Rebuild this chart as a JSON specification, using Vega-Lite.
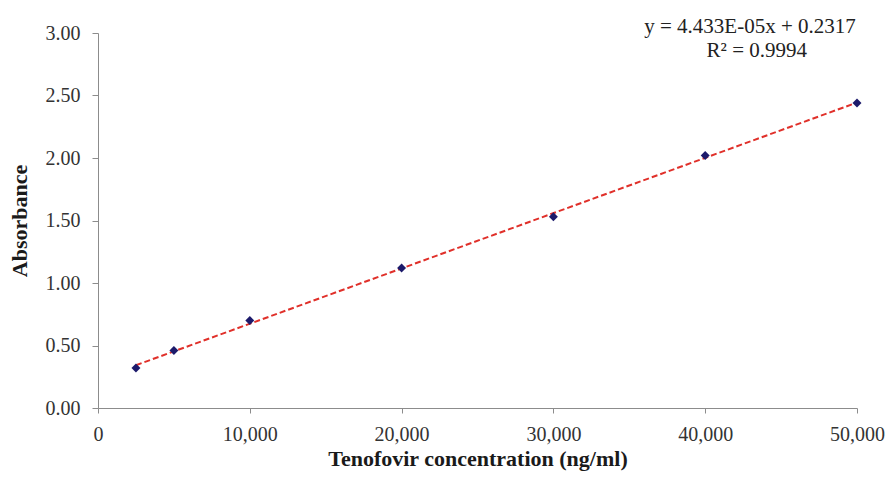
{
  "$schema": "https://vega.github.io/schema/vega-lite/v6.json",
  "width": 759,
  "height": 375,
  "autosize": {"type": "none"},
  "padding": {"left": 98, "top": 33, "right": 33, "bottom": 71},
  "background": "white",
  "config": {
    "view": {"stroke": null},
    "font": "Liberation Serif",
    "axis": {
      "grid": false,
      "domainColor": "#8c8c8c",
      "tickColor": "#8c8c8c",
      "labelFont": "Liberation Serif",
      "titleFont": "Liberation Serif",
      "labelFontSize": 20,
      "titleFontSize": 22,
      "labelColor": "#333333",
      "titleColor": "#1a1a1a",
      "titleFontWeight": "bold"
    }
  },
  "datasets": {
    "pts": [
      {"conc": 2500, "abs": 0.32},
      {"conc": 5000, "abs": 0.46},
      {"conc": 10000, "abs": 0.70},
      {"conc": 20000, "abs": 1.12},
      {"conc": 30000, "abs": 1.53},
      {"conc": 40000, "abs": 2.02},
      {"conc": 50000, "abs": 2.44}
    ],
    "eq": [
      {"label": "y = 4.433E-05x + 0.2317", "conc": 42950, "abs": 3.05},
      {"label": "R² = 0.9994", "conc": 43400, "abs": 2.86}
    ]
  },
  "layer": [
    {
      "data": {"name": "pts"},
      "transform": [{"regression": "abs", "on": "conc", "method": "linear"}],
      "mark": {"type": "line", "color": "#e0302a", "strokeWidth": 2, "strokeDash": [6, 3]},
      "encoding": {
        "x": {"field": "conc", "type": "quantitative"},
        "y": {"field": "abs", "type": "quantitative"}
      }
    },
    {
      "data": {"name": "pts"},
      "mark": {"type": "point", "shape": "diamond", "filled": true, "color": "#1c1a6b", "size": 80, "opacity": 1},
      "encoding": {
        "x": {
          "field": "conc", "type": "quantitative",
          "scale": {"domain": [0, 50000], "nice": false},
          "axis": {"values": [0, 10000, 20000, 30000, 40000, 50000], "format": ",d", "title": "Tenofovir concentration (ng/ml)", "tickSize": 5, "labelPadding": 11, "titlePadding": 4, "labelFlush": false}
        },
        "y": {
          "field": "abs", "type": "quantitative",
          "scale": {"domain": [0, 3], "nice": false},
          "axis": {"values": [0, 0.5, 1, 1.5, 2, 2.5, 3], "format": ".2f", "title": "Absorbance", "tickSize": 6, "labelPadding": 12, "titlePadding": 14}
        }
      }
    },
    {
      "data": {"name": "eq"},
      "mark": {"type": "text", "font": "Liberation Serif", "fontSize": 21, "color": "#222222", "align": "center", "baseline": "middle", "clip": false},
      "encoding": {
        "x": {"field": "conc", "type": "quantitative"},
        "y": {"field": "abs", "type": "quantitative"},
        "text": {"field": "label"}
      }
    }
  ]
}
